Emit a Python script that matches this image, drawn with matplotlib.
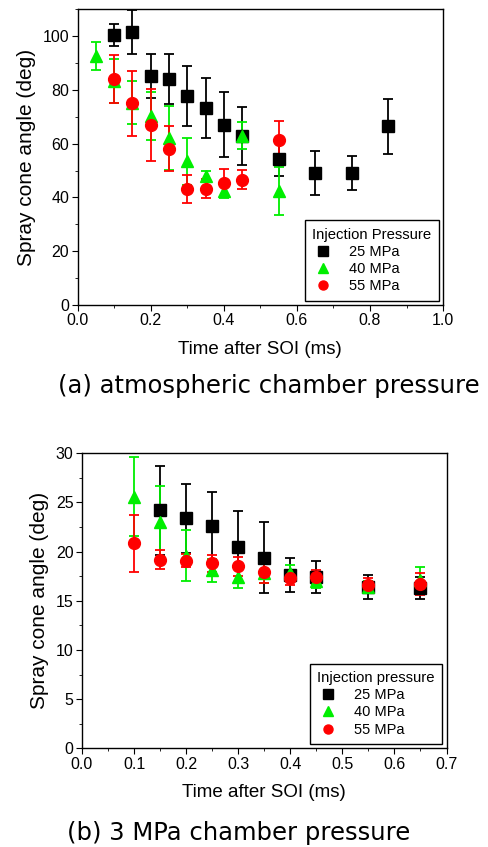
import matplotlib
matplotlib.use('Agg')
import matplotlib.pyplot as plt
from matplotlib.lines import Line2D

plt.rcParams['font.family'] = ['Liberation Sans', 'DejaVu Sans']

# (a) atmospheric chamber pressure
a_t25 = [0.10, 0.15, 0.20, 0.25, 0.30, 0.35, 0.40, 0.45, 0.55, 0.65, 0.75, 0.85]
a_y25 = [100.6, 101.5, 85.1, 84.1, 77.7, 73.3, 67.1, 62.8, 54.3, 49.1, 49.1, 66.5]
a_e25 = [4.1, 8.3, 8.2, 9.3, 11.1, 11.0, 12.2, 10.8, 6.2, 8.2, 6.3, 10.2]

a_t40 = [0.05, 0.10, 0.15, 0.20, 0.25, 0.30, 0.35, 0.40, 0.45, 0.55]
a_y40 = [92.6, 83.3, 75.3, 70.2, 62.2, 53.5, 48.1, 42.5, 63.0, 42.3]
a_e40 = [5.2, 8.2, 8.0, 9.0, 12.0, 8.8, 1.6, 2.8, 5.0, 9.0]

a_t55 = [0.10, 0.15, 0.20, 0.25, 0.30, 0.35, 0.40, 0.45, 0.55]
a_y55 = [84.0, 75.0, 67.1, 58.2, 43.2, 43.2, 45.5, 46.6, 61.3]
a_e55 = [9.0, 12.2, 13.4, 8.5, 5.3, 3.5, 5.0, 3.6, 7.0]

# (b) 3 MPa chamber pressure
b_t25 = [0.15, 0.20, 0.25, 0.30, 0.35, 0.40, 0.45, 0.55, 0.65]
b_y25 = [24.2, 23.4, 22.6, 20.5, 19.4, 17.6, 17.4, 16.4, 16.3]
b_e25 = [4.5, 3.5, 3.5, 3.6, 3.65, 1.75, 1.6, 1.2, 1.1]

b_t40 = [0.10, 0.15, 0.20, 0.25, 0.30, 0.35, 0.40, 0.45, 0.55, 0.65]
b_y40 = [25.6, 23.0, 19.6, 18.1, 17.4, 17.8, 17.8, 17.0, 16.4, 17.1]
b_e40 = [4.0, 3.7, 2.6, 1.2, 1.1, 1.0, 0.8, 0.7, 0.6, 1.3]

b_t55 = [0.10, 0.15, 0.20, 0.25, 0.30, 0.35, 0.40, 0.45, 0.55, 0.65]
b_y55 = [20.85, 19.2, 19.1, 18.8, 18.5, 17.9, 17.3, 17.4, 16.6, 16.7]
b_e55 = [2.9, 0.95, 0.65, 0.9, 1.0, 1.05, 0.7, 0.7, 0.75, 1.15]

labels = ['25 MPa', '40 MPa', '55 MPa']
colors = ['black', '#00ee00', '#ff0000']
markers = ['s', '^', 'o']

fig = plt.figure(figsize=(4.88, 8.47), dpi=100)
ax1 = fig.add_axes([0.159, 0.640, 0.749, 0.349])
ax2 = fig.add_axes([0.168, 0.1165, 0.747, 0.3483])


def draw(ax, series, xlim, ylim, xticks, yticks, legend_title):
    for (t, y, e), c, m in zip(series, colors, markers):
        ax.errorbar(t, y, yerr=e, fmt=m, color=c, ecolor=c, markersize=8.5,
                    elinewidth=1.3, capsize=3.8, capthick=1.3)
    ax.set_xlim(*xlim)
    ax.set_ylim(*ylim)
    ax.set_xticks(xticks)
    ax.set_yticks(yticks)
    ax.minorticks_on()
    ax.tick_params(which='both', direction='out', top=False, right=False,
                   labelsize=11.5, pad=2)
    ax.tick_params(which='major', length=4)
    ax.tick_params(which='minor', length=2)
    ax.set_xlabel('Time after SOI (ms)', fontsize=13.5, labelpad=9)
    ax.set_ylabel('Spray cone angle (deg)', fontsize=15, labelpad=5)
    for s in ax.spines.values():
        s.set_linewidth(1.0)
    handles = [Line2D([], [], linestyle='none', marker=m, color=c, markersize=6.5)
               for c, m in zip(colors, markers)]
    leg = ax.legend(handles, labels, title=legend_title, loc='lower right',
                    fontsize=10.5, title_fontsize=10.7, alignment='left',
                    fancybox=False, edgecolor='black', framealpha=1,
                    handlelength=1.5, handletextpad=1.0, labelspacing=0.22,
                    borderaxespad=0.3, borderpad=0.5)
    leg.get_frame().set_linewidth(1.0)


draw(ax1, [(a_t25, a_y25, a_e25), (a_t40, a_y40, a_e40), (a_t55, a_y55, a_e55)],
     (0, 1.0), (0, 110), [0, 0.2, 0.4, 0.6, 0.8, 1.0], range(0, 101, 20),
     'Injection Pressure')
ax1.set_xticklabels(['0.0', '0.2', '0.4', '0.6', '0.8', '1.0'])
ax1.xaxis.set_minor_locator(matplotlib.ticker.MultipleLocator(0.1))
ax1.yaxis.set_minor_locator(matplotlib.ticker.MultipleLocator(10))

draw(ax2, [(b_t25, b_y25, b_e25), (b_t40, b_y40, b_e40), (b_t55, b_y55, b_e55)],
     (0, 0.7), (0, 30), [0, 0.1, 0.2, 0.3, 0.4, 0.5, 0.6, 0.7], range(0, 31, 5),
     'Injection pressure')
ax2.set_xticklabels(['0.0', '0.1', '0.2', '0.3', '0.4', '0.5', '0.6', '0.7'])
ax2.xaxis.set_minor_locator(matplotlib.ticker.MultipleLocator(0.05))
ax2.yaxis.set_minor_locator(matplotlib.ticker.MultipleLocator(2.5))

fig.text(0.55, 1 - 386 / 847, '(a) atmospheric chamber pressure', ha='center',
         va='center', fontsize=17.5, family=['DejaVu Sans'])
fig.text(0.488, 1 - 833 / 847, '(b) 3 MPa chamber pressure', ha='center',
         va='center', fontsize=17.5, family=['DejaVu Sans'])

fig.savefig('out.png', dpi=100)
